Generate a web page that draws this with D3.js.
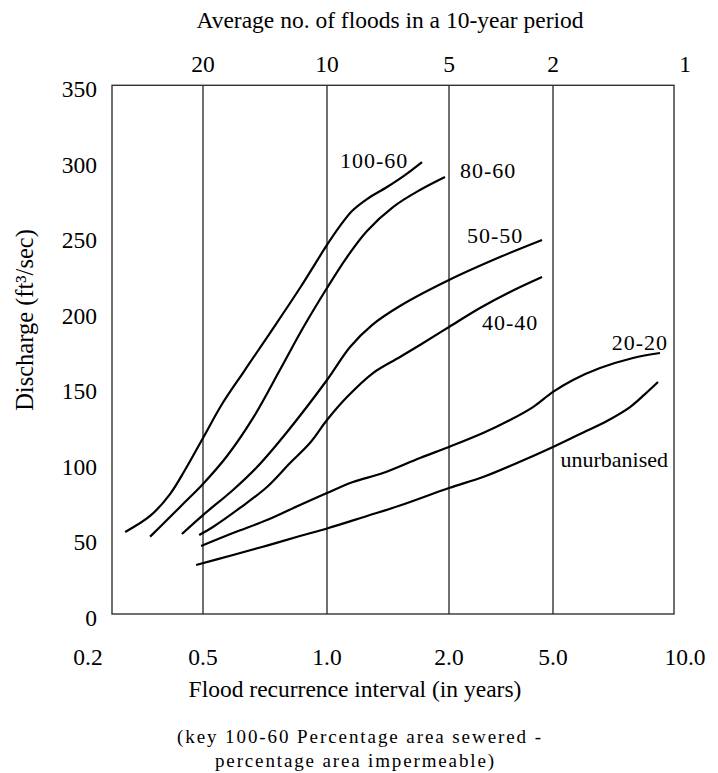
<!DOCTYPE html>
<html>
<head>
<meta charset="utf-8">
<script src="https://cdn.jsdelivr.net/npm/d3@7"></script>
<style>
  html, body { margin: 0; padding: 0; background: #fff; }
  svg { display: block; }
  text { font-family: "Liberation Serif", "Times New Roman", Times, serif; fill: #000; }
</style>
</head>
<body>
<script>
// ---- data ----
const xTickValues = [0.2, 0.5, 1, 2, 5, 10];
const xTickLabels = ["0.2", "0.5", "1.0", "2.0", "5.0", "10.0"];
const topTickValues = [0.5, 1, 2, 5, 10];
const topTickLabels = ["20", "10", "5", "2", "1"];
const gridValues = [0.5, 1, 2, 5];
const yTickValues = [0, 50, 100, 150, 200, 250, 300, 350];

const curve100_60 = [[0.297,54.3],[0.362,64.9],[0.414,79.4],[0.453,95.3],[0.5,116.5],[0.577,139],[0.669,161.5],[0.770,186],[0.891,215.8],[1.0,244.3],[1.107,256.9],[1.205,266.8],[1.328,274.7],[1.492,282.7],[1.639,290.6],[1.779,299.2]];
const curve80_60 = [[0.362,51.2],[0.406,62.2],[0.453,74.1],[0.5,86.1],[0.597,104.6],[0.702,129.8],[0.810,161.5],[0.903,189.3],[1.0,215.8],[1.164,236.3],[1.328,253.6],[1.541,269.4],[1.762,280.7],[1.967,289.3]];
const curve50_50 = [[0.445,53.0],[0.5,65.5],[0.621,82.1],[0.718,97.3],[0.839,120.5],[1.0,154.9],[1.189,176.8],[1.369,191.3],[1.598,203.9],[2.0,221.1],[3.471,236.3],[4.683,247.6]];
const curve40_40 = [[0.490,52.3],[0.540,57.6],[0.649,70.2],[0.758,84.1],[0.851,100],[0.931,113.2],[1.0,128.4],[1.164,143.6],[1.377,159.5],[1.598,170.1],[1.762,178.1],[2.0,190],[2.894,202.6],[3.760,213.2],[4.683,223.1]];
const curve20_20 = [[0.495,45],[0.621,53.6],[0.758,62.2],[0.891,72.2],[1.0,80.1],[1.213,87.4],[1.459,93.3],[1.762,103.3],[2.0,110.6],[2.981,119.8],[3.760,128.4],[4.423,137],[5.0,147],[5.758,154.9],[6.780,162.8],[8.030,169.5],[9.053,172.8]];
const curveUnurbanised = [[0.482,32.4],[0.621,39.1],[0.758,45.3],[0.891,51.6],[1.0,56.6],[1.328,64.9],[1.598,71.8],[2.0,83.4],[2.981,90.7],[3.962,100],[5.0,110.6],[6.023,119.2],[7.045,127.8],[7.917,137],[8.485,145.6],[8.977,153.6]];

const seriesNames = ["100-60", "80-60", "50-50", "40-40", "20-20", "unurbanised"];
const seriesData = [curve100_60, curve80_60, curve50_50, curve40_40, curve20_20, curveUnurbanised];
// label anchor points (x value, discharge) beside each curve
const labelAt = [[1.107, 295.2], [2.317, 288.6], [2.519, 245.6], [2.952, 188], [9.356, 174.8], [9.356, 97.3]];
const labelAnchor = ["start", "start", "start", "start", "end", "end"];

const titleTop = "Average no. of floods in a 10-year period";
const titleX = "Flood recurrence interval (in years)";
const titleY = "Discharge (ft\u00B3/sec)";
const keyLines = ["(key 100-60 Percentage area sewered -", "percentage area impermeable)"];

// ---- layout ----
const W = 718, H = 773;
const plotL = 112, plotR = 674, plotT = 85.3, plotB = 614;

const x = d3.scaleLinear().domain(xTickValues).range([88, 203, 327, 449, 553, 685]);
const y = d3.scaleLinear().domain([0, 350]).range([plotB, plotT]);

const svg = d3.select("body").append("svg").attr("width", W).attr("height", H);

// frame
svg.append("rect")
  .attr("x", plotL).attr("y", plotT)
  .attr("width", plotR - plotL).attr("height", plotB - plotT)
  .attr("fill", "none").attr("stroke", "#333").attr("stroke-width", 1.4);

// vertical grid lines
svg.selectAll("line.grid").data(gridValues).join("line")
  .attr("class", "grid")
  .attr("x1", d => x(d)).attr("x2", d => x(d))
  .attr("y1", plotT).attr("y2", plotB)
  .attr("stroke", "#333").attr("stroke-width", 1.4);

// y tick labels
svg.selectAll("text.ytick").data(yTickValues).join("text")
  .attr("class", "ytick")
  .attr("x", 97).attr("y", d => y(d) + 12)
  .attr("text-anchor", "end")
  .attr("font-size", 23.5)
  .text(d => d);

// bottom tick labels
svg.selectAll("text.xtick").data(xTickValues).join("text")
  .attr("class", "xtick")
  .attr("x", d => x(d)).attr("y", 665)
  .attr("text-anchor", "middle")
  .attr("font-size", 23.5)
  .text((d, i) => xTickLabels[i]);

// top tick labels
svg.selectAll("text.ttick").data(topTickValues).join("text")
  .attr("class", "ttick")
  .attr("x", d => x(d)).attr("y", 72)
  .attr("text-anchor", "middle")
  .attr("font-size", 23.5)
  .text((d, i) => topTickLabels[i]);

// titles
svg.append("text").attr("x", 390).attr("y", 28).attr("text-anchor", "middle")
  .attr("font-size", 23.5).text(titleTop);
svg.append("text").attr("x", 355).attr("y", 697).attr("text-anchor", "middle")
  .attr("font-size", 23.5).text(titleX);
svg.append("text").attr("transform", "translate(33,320) rotate(-90)")
  .attr("text-anchor", "middle").attr("font-size", 24.5).text(titleY);

// key
svg.append("text").attr("x", 177).attr("y", 743)
  .attr("font-size", 19).attr("textLength", 364).attr("lengthAdjust", "spacing")
  .text(keyLines[0]);
svg.append("text").attr("x", 215).attr("y", 767)
  .attr("font-size", 19).attr("textLength", 279).attr("lengthAdjust", "spacing")
  .text(keyLines[1]);

// curves
const line = d3.line().x(d => x(d[0])).y(d => y(d[1])).curve(d3.curveCatmullRom.alpha(0.5));
svg.selectAll("path.curve").data(seriesData).join("path")
  .attr("class", "curve")
  .attr("d", line)
  .attr("fill", "none").attr("stroke", "#000").attr("stroke-width", 2.2)
  .attr("stroke-linecap", "butt");

// curve labels
svg.selectAll("text.clabel").data(seriesNames).join("text")
  .attr("class", "clabel")
  .attr("x", (d, i) => x(labelAt[i][0]))
  .attr("y", (d, i) => y(labelAt[i][1]))
  .attr("text-anchor", (d, i) => labelAnchor[i])
  .attr("font-size", 22)
  .attr("letter-spacing", (d, i) => i < 5 ? 1 : 0)
  .text(d => d);
</script>
</body>
</html>
